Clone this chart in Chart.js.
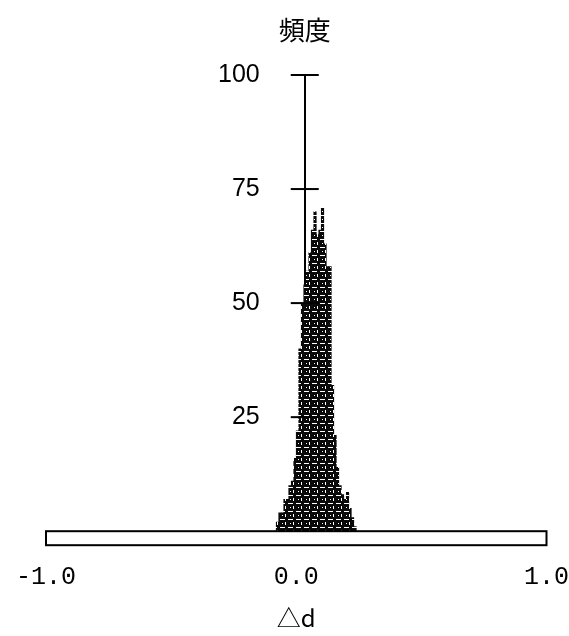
<!DOCTYPE html>
<html>
<head>
<meta charset="utf-8">
<script src="https://cdn.jsdelivr.net/npm/chart.js@4.4.1/dist/chart.umd.min.js"></script>
<style>
  html, body { margin: 0; padding: 0; background: #fff; }
  #wrap { width: 569px; height: 636px; }
</style>
</head>
<body>
<div id="wrap"><canvas id="histChart" width="569" height="636"></canvas></div>
<script>
// histogram of Δd, bins 0.01 wide (values are bin centres)
const binCenters = [-0.075, -0.065, -0.055, -0.045, -0.035, -0.025, -0.015, -0.005,
                    0.005, 0.015, 0.025, 0.035, 0.045, 0.055, 0.065, 0.075,
                    0.085, 0.095, 0.105, 0.115, 0.125, 0.135, 0.145, 0.155,
                    0.165, 0.175, 0.185, 0.195, 0.205, 0.215, 0.225, 0.235];
const frequency = [2, 4, 4, 7, 7, 10, 11, 16,
                   22, 40, 50, 54, 57, 61, 66, 70,
                   65, 66, 71, 63, 58, 58, 32, 21,
                   14, 10, 8, 7, 8.5, 5, 3, 1];
const xTicks = [-1.0, 0.0, 1.0];
const yTicks = [25, 50, 75, 100];
const yTitle = '頻度';
const xTitle = '△d';
const yAxisAt = 0.034; // where the frequency axis stands on the Δd axis in the figure

function makeHatch(ctx) {
    // scanned-print look: dark brick cells with white seams
    const c = document.createElement('canvas');
    c.width = 8;
    c.height = 8;
    const g = c.getContext('2d');
    g.fillStyle = '#0a0a0a';
    g.fillRect(0, 0, 8, 8);
    g.fillStyle = '#fff';
    g.fillRect(0, 7, 5, 1);
    g.fillRect(5, 2, 1, 3);
    g.fillRect(2, 3, 1, 1);
    return ctx.createPattern(c, 'repeat');
}

const axisDecor = {
    id: 'axisDecor',
    afterDraw(chart) {
        const {ctx, scales: {x, y}} = chart;
        const ax = x.getPixelForValue(yAxisAt);
        const y0 = y.getPixelForValue(0);
        ctx.save();
        ctx.strokeStyle = '#000';
        ctx.lineWidth = 2;
        // the flat bar along the Δd axis
        ctx.strokeRect(x.left, y0, x.right - x.left, 14);
        // frequency ticks cross the axis, labels to the left
        ctx.fillStyle = '#000';
        ctx.font = '25px "Liberation Sans", sans-serif';
        ctx.textAlign = 'right';
        ctx.textBaseline = 'middle';
        yTicks.forEach(v => {
            const py = y.getPixelForValue(v);
            ctx.beginPath();
            ctx.moveTo(ax - 14, py);
            ctx.lineTo(ax + 14, py);
            ctx.stroke();
            ctx.fillText(String(v), ax - 45, py);
        });
        ctx.font = '26px "Noto Sans CJK JP"';
        ctx.textAlign = 'center';
        ctx.fillText(yTitle, ax, 30);
        ctx.restore();
    }
};

const canvas = document.getElementById('histChart');
const ctx = canvas.getContext('2d');

new Chart(ctx, {
    type: 'bar',
    data: {
        datasets: [{
            data: binCenters.map((c, i) => ({x: c, y: frequency[i]})),
            backgroundColor: makeHatch(ctx),
            borderWidth: 0,
            barPercentage: 1,
            categoryPercentage: 1
        }]
    },
    options: {
        responsive: false,
        animation: false,
        layout: {
            padding: {top: 75, left: 46, right: 18, bottom: 0}
        },
        plugins: {
            legend: {display: false},
            tooltip: {enabled: false}
        },
        scales: {
            x: {
                type: 'linear',
                offset: false,
                min: -1,
                max: 1,
                afterBuildTicks: scale => {
                    scale.ticks = xTicks.map(v => ({value: v}));
                },
                // invisible tick marks only push the labels down
                grid: {display: false, drawTicks: true, tickLength: 31},
                border: {display: false},
                ticks: {
                    padding: 0,
                    color: '#000',
                    font: {family: '"Liberation Mono", monospace', size: 25},
                    callback: v => v.toFixed(1)
                },
                title: {
                    display: true,
                    text: xTitle,
                    color: '#000',
                    font: {family: '"Noto Sans CJK JP", sans-serif', size: 24},
                    padding: {top: 11, bottom: 4}
                }
            },
            y: {
                position: {x: yAxisAt},
                min: 0,
                max: 100,
                afterBuildTicks: scale => {
                    scale.ticks = yTicks.map(v => ({value: v}));
                },
                grid: {display: false, drawTicks: false},
                border: {display: true, color: '#000', width: 2},
                ticks: {display: false}
            }
        }
    },
    plugins: [axisDecor]
});
</script>
</body>
</html>
